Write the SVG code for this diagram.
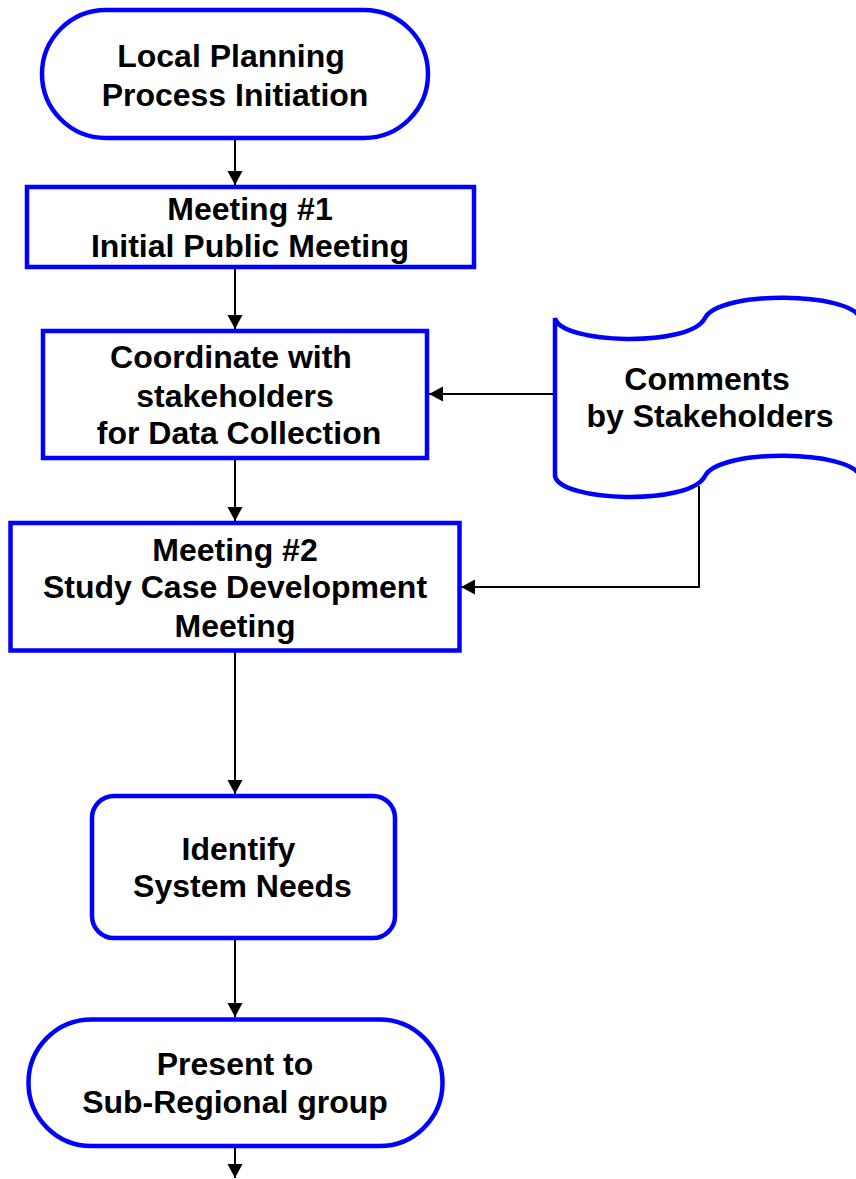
<svg xmlns="http://www.w3.org/2000/svg" width="856" height="1179" viewBox="0 0 856 1179">
<defs>
<style>
.n{fill:#ffffff;stroke:#0000ff;stroke-width:4.5}
.t{font-family:"Liberation Sans",Arial,sans-serif;font-weight:bold;font-size:32px;fill:#000000;text-anchor:middle}
.c{fill:none;stroke:#000000;stroke-width:2}
</style>
<marker id="ah" markerUnits="userSpaceOnUse" markerWidth="15" markerHeight="16" refX="14" refY="7.5" orient="auto">
<path d="M0,0 L14,7.5 L0,15 Z" fill="#000000"/>
</marker>
</defs>
<rect width="856" height="1179" fill="#ffffff"/>
<g id="connectors">
<path class="c" d="M235,138 V185" marker-end="url(#ah)"/>
<path class="c" d="M235,267 V329" marker-end="url(#ah)"/>
<path class="c" d="M555,394 H429" marker-end="url(#ah)"/>
<path class="c" d="M235,458 V521" marker-end="url(#ah)"/>
<path class="c" d="M699,486 V587 H461" marker-end="url(#ah)"/>
<path class="c" d="M235,650 V794" marker-end="url(#ah)"/>
<path class="c" d="M235,938 V1017" marker-end="url(#ah)"/>
<path class="c" d="M235,1146 V1178" marker-end="url(#ah)"/>
</g>
<g id="start">
<rect class="n" x="42" y="10" width="386" height="128" rx="64" ry="64"/>
<text class="t" x="231" y="67">Local Planning</text>
<text class="t" x="235" y="106">Process Initiation</text>
</g>
<g id="meeting1">
<rect class="n" x="27" y="187" width="447" height="80"/>
<text class="t" x="250" y="220">Meeting #1</text>
<text class="t" x="250" y="257">Initial Public Meeting</text>
</g>
<g id="coordinate">
<rect class="n" x="43" y="331" width="384" height="127"/>
<text class="t" x="231" y="368">Coordinate with</text>
<text class="t" x="235" y="407">stakeholders</text>
<text class="t" x="239" y="444">for Data Collection</text>
</g>
<g id="comments">
<path class="n" d="M555,318 C560,344 690,348 705,318 C720,290 850,292 860,318 L860,476 C850,450 720,448 705,476 C690,506 560,502 555,476 Z"/>
<text class="t" x="707" y="390">Comments</text>
<text class="t" x="710" y="427">by Stakeholders</text>
</g>
<g id="meeting2">
<rect class="n" x="10.5" y="523" width="449" height="127.5"/>
<text class="t" x="235" y="561">Meeting #2</text>
<text class="t" x="235" y="598">Study Case Development</text>
<text class="t" x="235" y="637">Meeting</text>
</g>
<g id="identify">
<rect class="n" x="92" y="796" width="303" height="142" rx="22" ry="22"/>
<text class="t" x="238.5" y="860">Identify</text>
<text class="t" x="242.5" y="897">System Needs</text>
</g>
<g id="present">
<rect class="n" x="28.5" y="1019.5" width="414" height="126.5" rx="63" ry="63"/>
<text class="t" x="235" y="1075">Present to</text>
<text class="t" x="235" y="1113">Sub-Regional group</text>
</g>
</svg>
